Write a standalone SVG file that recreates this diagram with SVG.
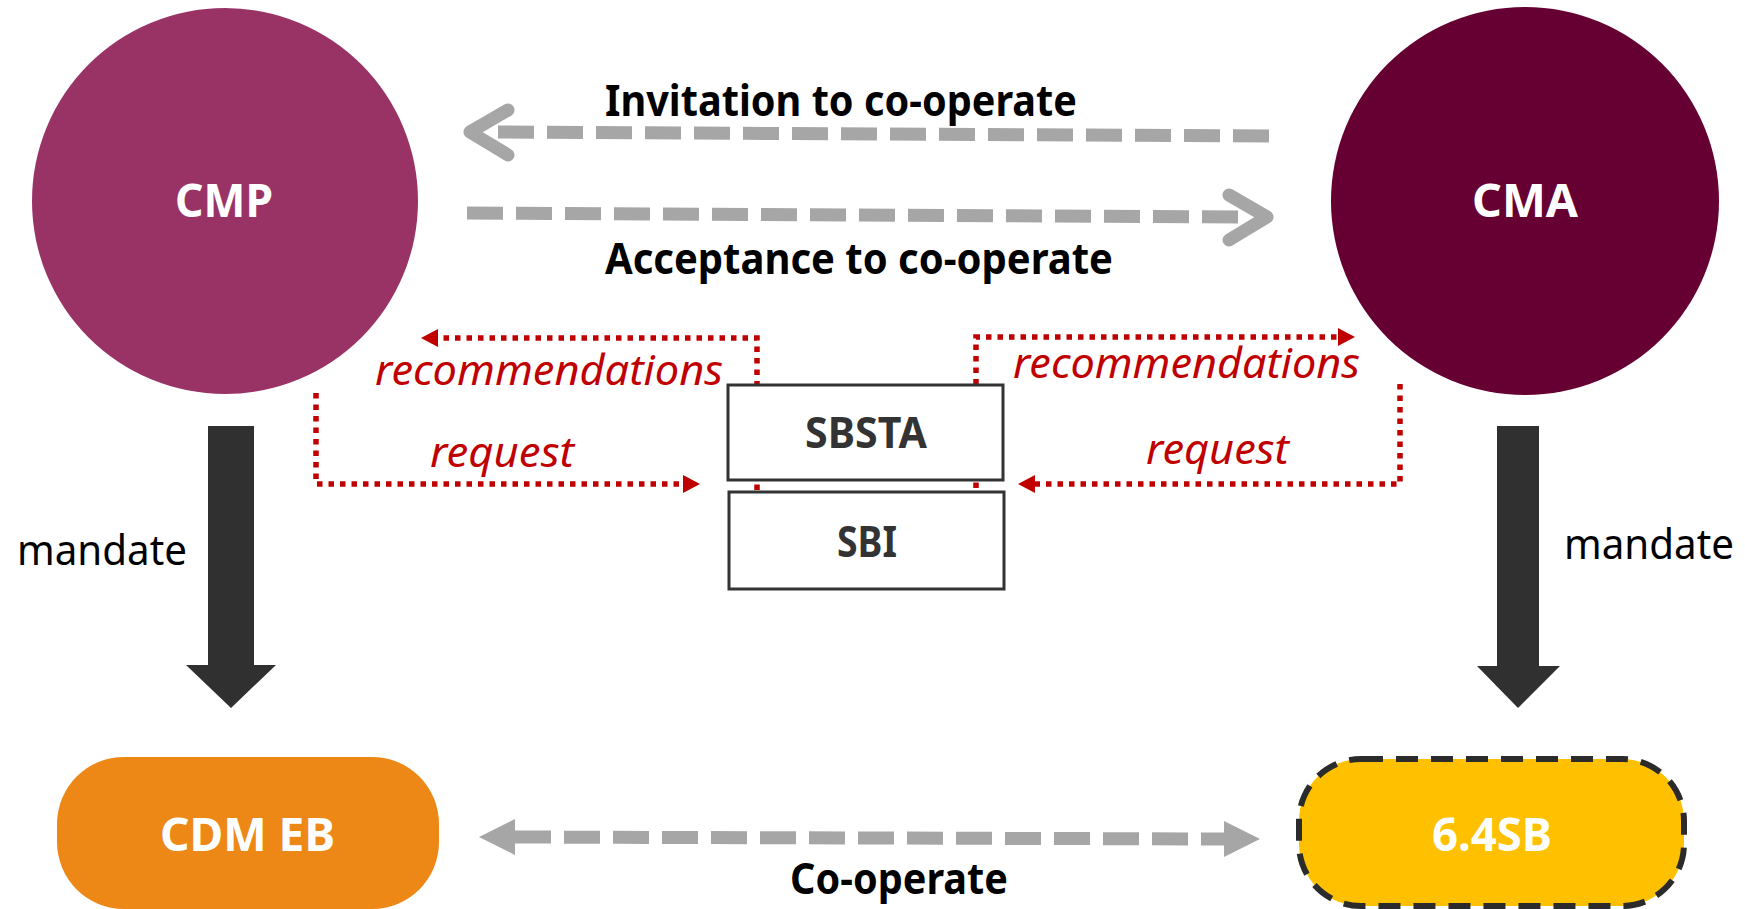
<svg xmlns="http://www.w3.org/2000/svg" width="1745" height="909" viewBox="0 0 1745 909">
<defs>
<style>
.b{font-family:"Noto Sans","Open Sans",sans-serif;font-weight:700;}
.r{font-family:"Noto Sans","Open Sans",sans-serif;font-weight:400;}
.it{font-family:"Noto Sans","Open Sans",sans-serif;font-style:italic;fill:#C00000;font-size:42px;}
.node{fill:#FFFFFF;font-size:47px;text-anchor:middle;}
.red{fill:none;stroke:#C00000;stroke-width:5.5;stroke-dasharray:5.5 6;}
.grey{fill:none;stroke:#A6A6A6;stroke-width:13;stroke-dasharray:36 13;}
.chev{fill:none;stroke:#A6A6A6;stroke-width:13;stroke-linecap:round;stroke-linejoin:round;}
.mand{fill:#303030;}
.box{fill:#FFFFFF;stroke:#333333;stroke-width:3;}
.boxt{fill:#333333;font-size:43px;}
</style>
<marker id="redHead" viewBox="0 0 17 18" refX="0" refY="9" markerWidth="17" markerHeight="18" markerUnits="userSpaceOnUse" orient="auto">
<path d="M0,0 L17,9 L0,18 z" fill="#C00000"/>
</marker>
</defs>
<rect width="1745" height="909" fill="#FFFFFF"/>

<g id="connectors">
<path class="red" d="M757,490 V338 H438" marker-end="url(#redHead)"/>
<path class="red" d="M316,393 V484 H683" marker-end="url(#redHead)"/>
<path class="red" d="M976,488 V337 H1338" marker-end="url(#redHead)"/>
<path class="red" d="M1400,384 V484 H1035" marker-end="url(#redHead)"/>
<text class="it" x="375" y="385" textLength="348" lengthAdjust="spacingAndGlyphs">recommendations</text>
<text class="it" x="430" y="467" textLength="144" lengthAdjust="spacingAndGlyphs">request</text>
<text class="it" x="1013" y="378" textLength="347" lengthAdjust="spacingAndGlyphs">recommendations</text>
<text class="it" x="1146" y="464" textLength="143" lengthAdjust="spacingAndGlyphs">request</text>

<path class="grey" d="M1269,136 L490,132"/>
<polyline class="chev" points="508,110 470,132 508,155"/>
<text class="b" x="605" y="116" font-size="43" textLength="472" lengthAdjust="spacingAndGlyphs">Invitation to co-operate</text>
<path class="grey" d="M467,213 L1250,217"/>
<polyline class="chev" points="1229,195 1267,217 1229,240"/>
<text class="b" x="605" y="274" font-size="43" textLength="508" lengthAdjust="spacingAndGlyphs">Acceptance to co-operate</text>

<path class="grey" d="M515,837 L1226,839"/>
<polygon points="479,837 515,819 515,855" fill="#A6A6A6"/>
<polygon points="1260,839 1224,821 1224,857" fill="#A6A6A6"/>
<text class="b" x="790" y="894" font-size="43" textLength="218" lengthAdjust="spacingAndGlyphs">Co-operate</text>

<polygon class="mand" points="208,426 254,426 254,665 276,665 231,708 186,665 208,665"/>
<text class="r" x="17" y="565" font-size="42" textLength="170" lengthAdjust="spacingAndGlyphs">mandate</text>
<polygon class="mand" points="1497,426 1539,426 1539,666 1560,666 1518,708 1477,666 1497,666"/>
<text class="r" x="1564" y="559" font-size="42" textLength="170" lengthAdjust="spacingAndGlyphs">mandate</text>
</g>

<g id="cmp">
<circle cx="225" cy="201" r="193" fill="#993366"/>
<text class="b node" x="224" y="217" textLength="98" lengthAdjust="spacingAndGlyphs">CMP</text>
</g>
<g id="cma">
<circle cx="1525" cy="201" r="194" fill="#660033"/>
<text class="b node" x="1525" y="217" textLength="106" lengthAdjust="spacingAndGlyphs">CMA</text>
</g>
<g id="sbsta">
<rect class="box" x="728" y="385" width="275" height="95"/>
<text class="b boxt" x="805" y="448" textLength="122" lengthAdjust="spacingAndGlyphs">SBSTA</text>
</g>
<g id="sbi">
<rect class="box" x="729" y="492" width="275" height="97"/>
<text class="b boxt" x="837" y="557" textLength="60" lengthAdjust="spacingAndGlyphs">SBI</text>
</g>
<g id="cdm-eb">
<rect x="57" y="757" width="382" height="152" rx="67" ry="67" fill="#ED8817"/>
<text class="b" x="160" y="851" font-size="47" fill="#FFFFFF" textLength="175" lengthAdjust="spacingAndGlyphs">CDM EB</text>
</g>
<g id="sb64">
<rect x="1299" y="759" width="385" height="147" rx="62" ry="62" fill="#FFC000" stroke="#2B2B2B" stroke-width="6" stroke-dasharray="22 13"/>
<text class="b" x="1432" y="851" font-size="47" fill="#FFFFFF" textLength="120" lengthAdjust="spacingAndGlyphs">6.4SB</text>
</g>
</svg>
